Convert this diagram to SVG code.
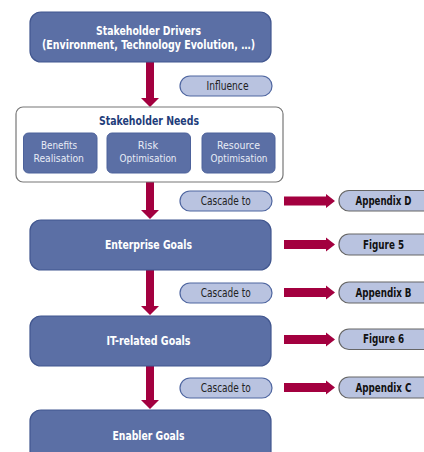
<svg xmlns="http://www.w3.org/2000/svg" width="424" height="452" viewBox="0 0 424 452">
<defs>
<style>
.box{fill:#5b6fa5;stroke:#41568f;stroke-width:1.2}
.sub{fill:#5b6fa5;stroke:#4d629b;stroke-width:1}
.t{font-family:"DejaVu Sans Condensed","Liberation Sans",sans-serif;text-anchor:middle}
.wt{fill:#ffffff;font-weight:bold;font-size:12px}
.st{fill:#e8ecf6;font-size:11px}
.pill{fill:#b9c3e0;stroke:#4f66a0;stroke-width:1.2}
.ref{fill:#b9c3e0;stroke:#666;stroke-width:1.2}
.pt{fill:#222;font-size:11.5px}
.rt{fill:#111;font-size:11.5px;font-weight:bold}
.arr{fill:#a3003f}
</style>
</defs>
<g id="connectors">
<polygon class="arr" points="146,62 154,62 154,98 159,98 150,107 141,98 146,98"/>
<polygon class="arr" points="146,182 154,182 154,210 159,210 150,219 141,210 146,210"/>
<polygon class="arr" points="146,270 154,270 154,306 159,306 150,315 141,306 146,306"/>
<polygon class="arr" points="146,366 154,366 154,400 159,400 150,409 141,400 146,400"/>
<polygon class="arr" points="284,196.5 326,196.5 326,194 335,201 326,208 326,205.5 284,205.5"/>
<polygon class="arr" points="284,240 326,240 326,237.5 335,244.5 326,251.5 326,249 284,249"/>
<polygon class="arr" points="284,288 326,288 326,285.5 335,292.5 326,299.5 326,297 284,297"/>
<polygon class="arr" points="284,335 326,335 326,332.5 335,339.5 326,346.5 326,344 284,344"/>
<polygon class="arr" points="284,383 326,383 326,380.5 335,387.5 326,394.5 326,392 284,392"/>
</g>
<g id="drivers">
<rect class="box" x="30" y="12" width="241" height="50" rx="11"/>
<text class="t wt" x="148.5" y="35" textLength="105" lengthAdjust="spacingAndGlyphs">Stakeholder Drivers</text>
<text class="t wt" x="148.5" y="49" textLength="213" lengthAdjust="spacingAndGlyphs">(Environment, Technology Evolution, …)</text>
</g>
<g id="influence">
<rect class="pill" x="180" y="76" width="92" height="20" rx="10"/>
<text class="t pt" x="227.5" y="89.5" textLength="42" lengthAdjust="spacingAndGlyphs">Influence</text>
</g>
<g id="needs">
<rect x="16" y="107" width="267" height="75" rx="7" fill="#fff" stroke="#777" stroke-width="1.2"/>
<text class="t" x="149" y="125" fill="#1f3d7a" font-weight="bold" font-size="12px" textLength="100" lengthAdjust="spacingAndGlyphs">Stakeholder Needs</text>
<g id="benefits">
<rect class="sub" x="23.5" y="133" width="73.5" height="40" rx="5"/>
<text class="t st" x="59" y="148.7" textLength="36" lengthAdjust="spacingAndGlyphs">Benefits</text>
<text class="t st" x="58.7" y="161.5" textLength="50.5" lengthAdjust="spacingAndGlyphs">Realisation</text>
</g>
<g id="risk">
<rect class="sub" x="107" y="133" width="83.5" height="40" rx="5"/>
<text class="t st" x="148" y="148.7" textLength="20.5" lengthAdjust="spacingAndGlyphs">Risk</text>
<text class="t st" x="148" y="161.8" textLength="57" lengthAdjust="spacingAndGlyphs">Optimisation</text>
</g>
<g id="resource">
<rect class="sub" x="202" y="133" width="73" height="40" rx="5"/>
<text class="t st" x="238.5" y="148.7" textLength="43" lengthAdjust="spacingAndGlyphs">Resource</text>
<text class="t st" x="239" y="161.8" textLength="57" lengthAdjust="spacingAndGlyphs">Optimisation</text>
</g>
</g>
<g id="cascade1">
<rect class="pill" x="180" y="191" width="92" height="20" rx="10"/>
<text class="t pt" x="225.7" y="204.8" textLength="50" lengthAdjust="spacingAndGlyphs">Cascade to</text>
</g>
<g id="appendixD">
<rect class="ref" x="339" y="190.5" width="95" height="20.5" rx="10"/>
<text class="t rt" x="383.5" y="204.8" textLength="56" lengthAdjust="spacingAndGlyphs">Appendix D</text>
</g>
<g id="enterprise">
<rect class="box" x="30" y="220" width="241" height="50" rx="11"/>
<text class="t wt" x="148.5" y="248.5" textLength="87" lengthAdjust="spacingAndGlyphs">Enterprise Goals</text>
</g>
<g id="figure5">
<rect class="ref" x="339" y="234" width="95" height="21" rx="10"/>
<text class="t rt" x="383.5" y="248.8" textLength="41" lengthAdjust="spacingAndGlyphs">Figure 5</text>
</g>
<g id="cascade2">
<rect class="pill" x="180" y="283" width="92" height="20" rx="10"/>
<text class="t pt" x="225.7" y="296.8" textLength="50" lengthAdjust="spacingAndGlyphs">Cascade to</text>
</g>
<g id="appendixB">
<rect class="ref" x="339" y="282" width="95" height="21" rx="10"/>
<text class="t rt" x="383.5" y="296.8" textLength="56" lengthAdjust="spacingAndGlyphs">Appendix B</text>
</g>
<g id="itgoals">
<rect class="box" x="30" y="316" width="241" height="50" rx="11"/>
<text class="t wt" x="148.5" y="344.5" textLength="84" lengthAdjust="spacingAndGlyphs">IT-related Goals</text>
</g>
<g id="figure6">
<rect class="ref" x="339" y="329" width="95" height="20.5" rx="10"/>
<text class="t rt" x="383.5" y="343.3" textLength="41" lengthAdjust="spacingAndGlyphs">Figure 6</text>
</g>
<g id="cascade3">
<rect class="pill" x="180" y="378" width="92" height="20" rx="10"/>
<text class="t pt" x="225.7" y="391.8" textLength="50" lengthAdjust="spacingAndGlyphs">Cascade to</text>
</g>
<g id="appendixC">
<rect class="ref" x="339" y="377" width="95" height="21" rx="10"/>
<text class="t rt" x="383.5" y="391.8" textLength="56" lengthAdjust="spacingAndGlyphs">Appendix C</text>
</g>
<g id="enabler">
<rect class="box" x="30" y="410" width="241" height="55" rx="11"/>
<text class="t wt" x="148.5" y="440" textLength="72" lengthAdjust="spacingAndGlyphs">Enabler Goals</text>
</g>
</svg>
